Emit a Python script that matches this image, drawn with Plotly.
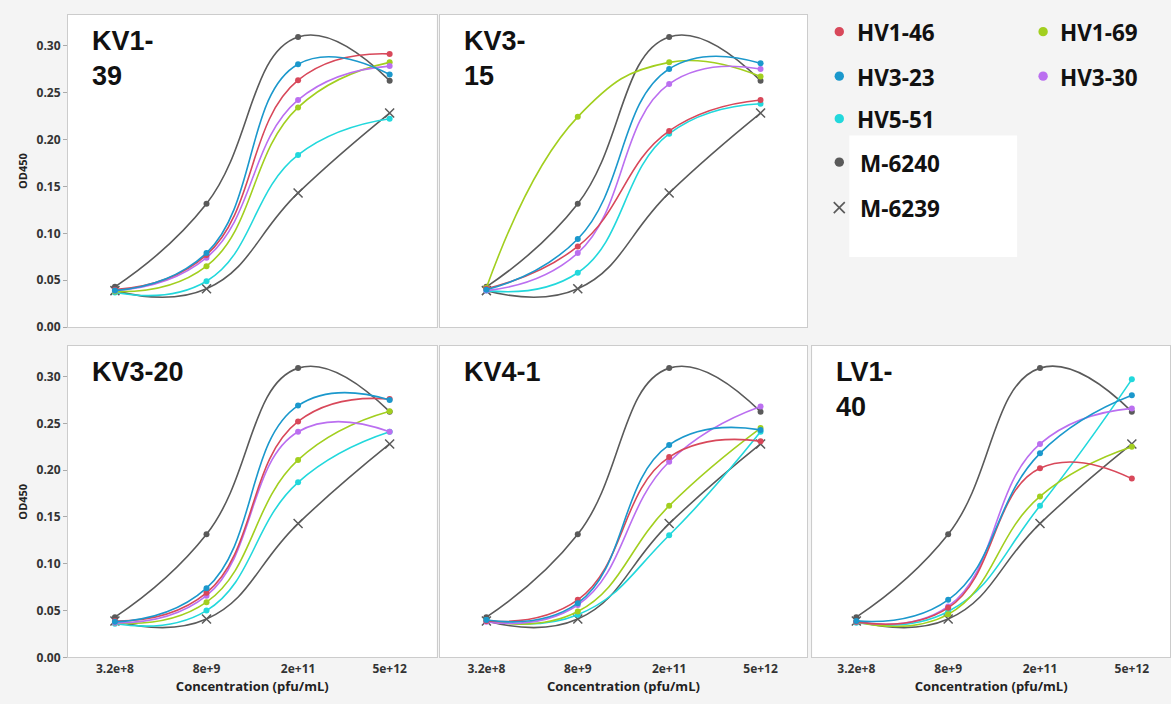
import plotly.graph_objects as go

# ---------------- data ----------------
conc = [3.2e8, 8e9, 2e11, 5e12]
conc_labels = ["3.2e+8", "8e+9", "2e+11", "5e+12"]
panel_titles = ["KV1-<br>39", "KV3-<br>15", "KV3-20", "KV4-1", "LV1-<br>40"]
series_names = ["HV1-46", "HV1-69", "HV3-23", "HV3-30", "HV5-51", "M-6240", "M-6239"]

# one row per panel: KV1-39, KV3-15, KV3-20, KV4-1, LV1-40
HV1_46 = [[0.040, 0.077, 0.263, 0.291],
          [0.041, 0.086, 0.209, 0.242],
          [0.039, 0.069, 0.252, 0.276],
          [0.039, 0.0615, 0.214, 0.231],
          [0.038, 0.053, 0.202, 0.191]]
HV1_69 = [[0.038, 0.065, 0.234, 0.282],
          [0.042, 0.224, 0.282, 0.267],
          [0.037, 0.059, 0.211, 0.263],
          [0.039, 0.049, 0.162, 0.245],
          [0.038, 0.046, 0.172, 0.225]]
HV3_23 = [[0.039, 0.079, 0.280, 0.269],
          [0.040, 0.094, 0.275, 0.281],
          [0.038, 0.074, 0.269, 0.275],
          [0.040, 0.058, 0.227, 0.243],
          [0.039, 0.0615, 0.218, 0.280]]
HV3_30 = [[0.039, 0.074, 0.242, 0.278],
          [0.039, 0.079, 0.259, 0.275],
          [0.037, 0.066, 0.241, 0.241],
          [0.038, 0.056, 0.209, 0.268],
          [0.038, 0.0545, 0.228, 0.266]]
HV5_51 = [[0.037, 0.049, 0.1835, 0.222],
          [0.039, 0.058, 0.206, 0.238],
          [0.036, 0.050, 0.187, 0.241],
          [0.040, 0.0457, 0.1305, 0.241],
          [0.037, 0.049, 0.162, 0.297]]
M_6240 = [0.043, 0.1315, 0.309, 0.2625]
M_6239 = [0.039, 0.041, 0.143, 0.228]

y_ticks = [0.0, 0.05, 0.10, 0.15, 0.20, 0.25, 0.30]

# ---------------- styles ----------------
colors = {"HV1-46": "#d8485a", "HV1-69": "#a2cf1f", "HV3-23": "#1b98cc",
          "HV3-30": "#bb6ff0", "HV5-51": "#22d8dc", "M-6240": "#5a5a5a", "M-6239": "#5a5a5a"}
W, H = 1171, 704

# panel boxes in pixels: (x0, x1, y0, y1)
boxes = [(68, 437, 15, 331), (440, 808, 15, 331),
         (68, 437, 350, 665), (440, 808, 350, 665), (813, 1171, 350, 665)]
xranges = [[7.788, 13.416], [7.790, 13.414], [7.788, 13.416], [7.790, 13.414], [7.835, 13.28]]

fig = go.Figure()
panel_data = {"HV1-46": HV1_46, "HV1-69": HV1_69, "HV3-23": HV3_23,
              "HV3-30": HV3_30, "HV5-51": HV5_51}

tick_font = dict(family="Open Sans", size=12, color="#333333", weight="bold")

for i, box in enumerate(boxes):
    ax = "" if i == 0 else str(i + 1)
    xa, ya = "x" + ax, "y" + ax
    x0, x1, y0, y1 = box
    bottom_row = i >= 2
    first_col = i in (0, 2)
    order = ["M-6240", "M-6239", "HV5-51", "HV1-69", "HV3-30", "HV1-46", "HV3-23"]
    for name in order:
        if name == "M-6240":
            ys = M_6240
        elif name == "M-6239":
            ys = M_6239
        else:
            ys = panel_data[name][i]
        if name == "M-6239":
            marker = dict(symbol="x-thin", size=9, color=colors[name],
                          line=dict(width=1.5, color=colors[name]))
        else:
            marker = dict(symbol="circle", size=6, color=colors[name])
        fig.add_trace(go.Scatter(
            x=conc, y=ys, xaxis=xa, yaxis=ya, name=name, showlegend=False,
            mode="lines+markers", line=dict(shape="spline", smoothing=1.3,
                                            width=1.6, color=colors[name]),
            marker=marker))
    xkey = "xaxis" + ax
    ykey = "yaxis" + ax
    fig.layout[xkey] = dict(
        domain=[x0 / W, x1 / W], anchor=ya, type="log", range=xranges[i],
        tickvals=conc, ticktext=conc_labels, showticklabels=bottom_row,
        tickfont=tick_font, showgrid=False, zeroline=False,
        showline=True, mirror=True, linecolor="#cccccc", linewidth=1,
        ticks="", fixedrange=True,
        title=dict(text="Concentration (pfu/mL)" if bottom_row else "",
                   font=dict(family="Open Sans", size=13, color="#222222", weight="bold"),
                   standoff=2))
    fig.layout[ykey] = dict(
        domain=[1 - y1 / H, 1 - y0 / H], anchor=xa, range=[0, 0.3326],
        tickvals=y_ticks, tickformat=".2f", showticklabels=first_col,
        tickfont=tick_font, showgrid=False, zeroline=False,
        showline=True, mirror=True, linecolor="#cccccc", linewidth=1,
        ticks="outside" if first_col else "", ticklen=4, tickcolor="#aaaaaa",
        fixedrange=True,
        title=dict(text="OD450" if first_col else "",
                   font=dict(family="Open Sans", size=11, color="#222222", weight="bold"),
                   standoff=6))
    # panel title
    fig.add_annotation(
        x=(x0 + 22) / W, y=1 - (y0 + 9) / H, xref="paper", yref="paper",
        xanchor="left", yanchor="top", align="left", showarrow=False,
        text=panel_titles[i],
        font=dict(family="Liberation Sans", size=27, color="#111111", weight="bold"))

# ---------------- legend (drawn manually) ----------------
shapes = []
# white box behind the reference entries
shapes.append(dict(type="rect", xref="paper", yref="paper",
                   x0=850 / W, x1=1018 / W, y0=1 - 260 / H, y1=1 - 137 / H,
                   fillcolor="white", line=dict(width=0), layer="below"))
legend_items = [("HV1-46", 840, 32, 856), ("HV3-23", 840, 77, 856), ("HV5-51", 840, 120, 856),
                ("M-6240", 840, 164, 859), ("M-6239", 840, 210, 859),
                ("HV1-69", 1044, 32, 1059), ("HV3-30", 1044, 77, 1059)]
for name, mx, my, tx in legend_items:
    px, py = mx / W, 1 - my / H
    if name == "M-6239":
        for sgn in (1, -1):
            shapes.append(dict(type="line", xref="paper", yref="paper",
                               xsizemode="pixel", ysizemode="pixel",
                               xanchor=px, yanchor=py, x0=-5.5, x1=5.5,
                               y0=-5.5 * sgn, y1=5.5 * sgn,
                               line=dict(color=colors[name], width=1.6)))
    else:
        shapes.append(dict(type="circle", xref="paper", yref="paper",
                           xsizemode="pixel", ysizemode="pixel",
                           xanchor=px, yanchor=py, x0=-4.7, x1=4.7, y0=-4.7, y1=4.7,
                           fillcolor=colors[name], line=dict(width=0)))
    fig.add_annotation(x=tx / W, y=1 - (my + 1) / H, xref="paper", yref="paper",
                       xanchor="left", yanchor="middle", showarrow=False, text=name,
                       font=dict(family="Open Sans", size=22.5, color="#111111", weight="bold"))

fig.update_layout(
    width=W, height=H, margin=dict(l=0, r=0, t=0, b=0),
    paper_bgcolor="#f4f4f4", plot_bgcolor="white", showlegend=False,
    shapes=shapes, hovermode=False)

fig.write_html("out.html", config={"displayModeBar": False})
